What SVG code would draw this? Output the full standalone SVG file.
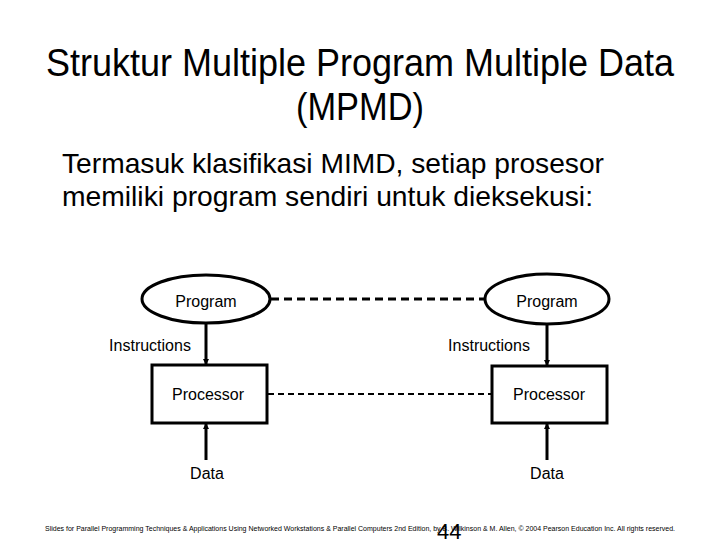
<svg xmlns="http://www.w3.org/2000/svg" width="720" height="540" viewBox="0 0 720 540">
<style>
text{font-family:"Liberation Sans",Arial,sans-serif;fill:#000}
.title{font-size:38px}
.body{font-size:28px}
.lbl{font-size:16px;text-anchor:middle}
.shape{fill:#fff;stroke:#000;stroke-width:3}
.arr{stroke:#000;stroke-width:3;fill:none}
</style>
<defs>
<marker id="ah" viewBox="0 0 6 6" refX="5" refY="3" markerWidth="6" markerHeight="6" markerUnits="userSpaceOnUse" orient="auto">
<path d="M0,0 L6,3 L0,6 z" fill="#000"/>
</marker>
</defs>
<rect width="720" height="540" fill="#fff"/>
<text class="title" x="46" y="76" textLength="628" lengthAdjust="spacingAndGlyphs">Struktur Multiple Program Multiple Data</text>
<text class="title" x="296" y="120" textLength="128" lengthAdjust="spacingAndGlyphs">(MPMD)</text>
<text class="body" x="62" y="173" textLength="542" lengthAdjust="spacingAndGlyphs">Termasuk klasifikasi MIMD, setiap prosesor</text>
<text class="body" x="62" y="206" textLength="531" lengthAdjust="spacingAndGlyphs">memiliki program sendiri untuk dieksekusi:</text>
<g id="connectors">
<line x1="271" y1="299" x2="485" y2="299" stroke="#000" stroke-width="3" stroke-dasharray="8,5"/>
<line x1="268" y1="394" x2="492" y2="394" stroke="#000" stroke-width="2" stroke-dasharray="6,4"/>
<line class="arr" x1="206" y1="324" x2="206" y2="364" marker-end="url(#ah)"/>
<line class="arr" x1="547" y1="325" x2="547" y2="365" marker-end="url(#ah)"/>
<line class="arr" x1="206" y1="460" x2="206" y2="424" marker-end="url(#ah)"/>
<line class="arr" x1="547" y1="460" x2="547" y2="424" marker-end="url(#ah)"/>
<text class="lbl" x="150" y="351">Instructions</text>
<text class="lbl" x="489" y="351">Instructions</text>
</g>
<g id="program1"><ellipse class="shape" cx="206" cy="299" rx="64" ry="24"/><text class="lbl" x="206" y="307">Program</text></g>
<g id="program2"><ellipse class="shape" cx="547" cy="299" rx="62" ry="25"/><text class="lbl" x="547" y="307">Program</text></g>
<g id="processor1"><rect class="shape" x="152" y="365" width="115" height="58"/><text class="lbl" x="208" y="400">Processor</text></g>
<g id="processor2"><rect class="shape" x="492" y="366" width="115" height="57"/><text class="lbl" x="549" y="400">Processor</text></g>
<g id="data1"><text class="lbl" x="207" y="479">Data</text></g>
<g id="data2"><text class="lbl" x="547" y="479">Data</text></g>
<text x="45" y="531" font-size="6.5" textLength="630" lengthAdjust="spacingAndGlyphs">Slides for Parallel Programming Techniques &amp; Applications Using Networked Workstations &amp; Parallel Computers 2nd Edition, by B. Wilkinson &amp; M. Allen, © 2004 Pearson Education Inc. All rights reserved.</text>
<text x="437" y="539" font-size="22">44</text>
</svg>
